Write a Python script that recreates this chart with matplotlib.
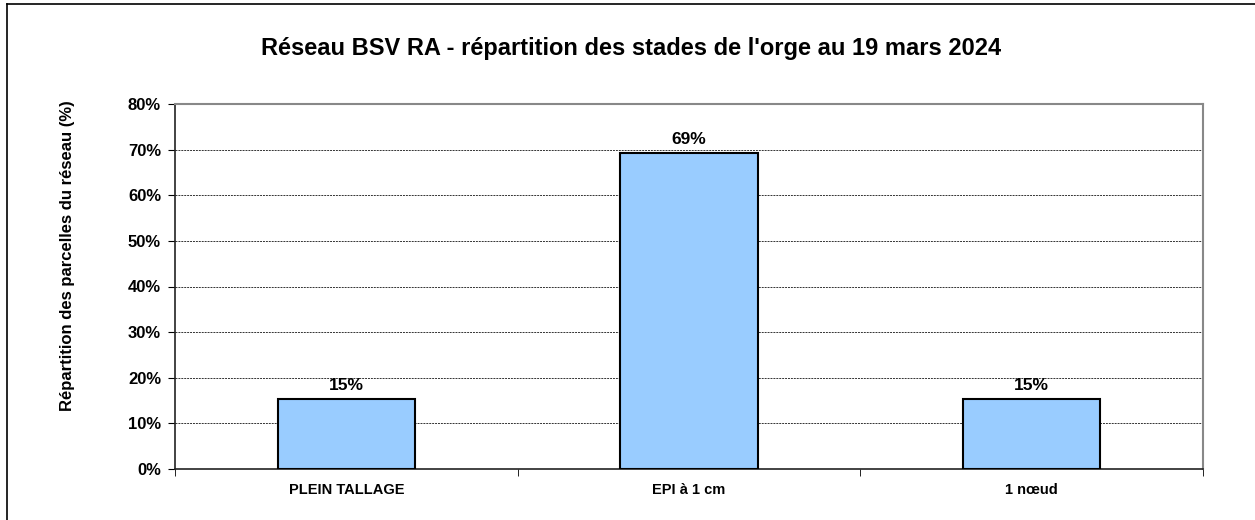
import matplotlib
matplotlib.use('Agg')
import matplotlib.pyplot as plt
from matplotlib.lines import Line2D

plt.rcParams['font.family'] = ['Liberation Sans', 'DejaVu Sans']

# data
stades = ['PLEIN TALLAGE', 'EPI à 1 cm', '1 nœud']
parts = [15.38, 69.23, 15.38]
etiquettes = ['15%', '69%', '15%']
yticks = [0, 10, 20, 30, 40, 50, 60, 70, 80]

fig = plt.figure(figsize=(12.55, 5.2), dpi=100)
ax = fig.add_axes([175/1255, 1 - 469/520, 1028/1255, 365/520])

x = range(len(stades))
bars = ax.bar(x, parts, width=0.4, color='#99CCFF', edgecolor='black',
              linewidth=1.5, zorder=3)
for b, t in zip(bars, etiquettes):
    ax.text(b.get_x() + b.get_width() / 2, b.get_height() + 1.3, t,
            ha='center', va='bottom', fontsize=12.5, fontweight='bold')

ax.set_xlim(-0.5, 2.5)
ax.set_ylim(0, 80)
ax.set_yticks(yticks)
ax.set_yticklabels([f'{v}%' for v in yticks], fontsize=12, fontweight='bold')
ax.set_xticks(list(x))
ax.set_xticklabels(stades, fontsize=10.5, fontweight='bold')
ax.tick_params(axis='x', length=0, pad=10)
ax.set_xticks([-0.5, 0.5, 1.5, 2.5], minor=True)
ax.tick_params(axis='x', which='minor', length=5, direction='out')
ax.tick_params(axis='y', length=5, direction='out', pad=5)

for v in yticks[1:-1]:
    ax.axhline(v, color='#333333', linestyle=(0, (2, 1)), linewidth=0.7, zorder=1)

ax.spines['top'].set_color('#888888')
ax.spines['right'].set_color('#888888')
ax.spines['top'].set_linewidth(1.5)
ax.spines['right'].set_linewidth(1.5)
ax.spines['left'].set_color('#222222')
ax.spines['bottom'].set_color('#222222')
ax.spines['left'].set_linewidth(1.2)
ax.spines['bottom'].set_linewidth(1.2)

fig.text(68/1255, 1 - 256/520, 'Répartition des parcelles du réseau (%)',
         rotation=90, ha='center', va='center', fontsize=12, fontweight='bold')

fig.text(631/1255, 1 - 48/520, "Réseau BSV RA - répartition des stades de l'orge au 19 mars 2024",
         ha='center', va='center', fontsize=17, fontweight='bold')

# cadre du graphique (bord gauche et haut)
fig.add_artist(Line2D([7/1255, 7/1255], [0, 1 - 4/520], color='black', lw=1.2))
fig.add_artist(Line2D([7/1255, 1], [1 - 4/520, 1 - 4/520], color='black', lw=1.2))

fig.savefig('out.png', dpi=100)
